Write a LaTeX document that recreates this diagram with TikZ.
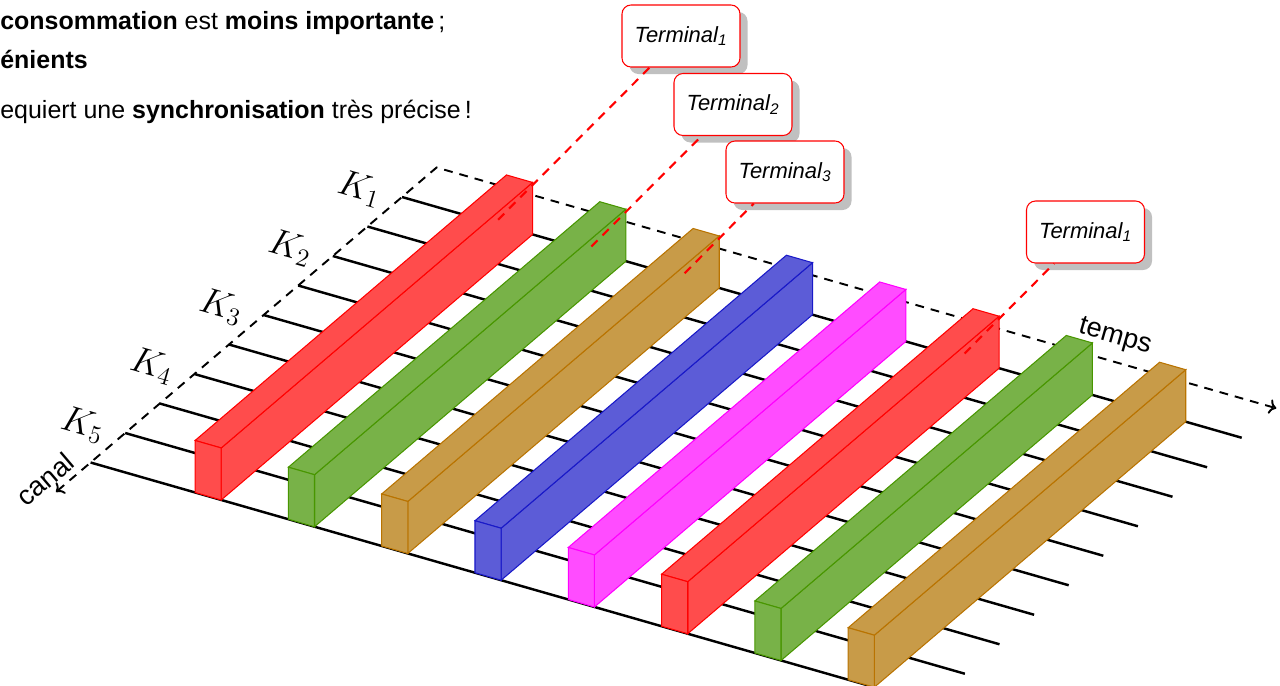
\documentclass[tikz,border=0pt]{standalone}
\usepackage[no-math]{fontspec}
\setmainfont{Liberation Sans}
\usetikzlibrary{arrows.meta, shadows}
\definecolor{barred}{RGB}{255,76,76}
\definecolor{edgered}{RGB}{255,0,0}
\definecolor{bargreen}{RGB}{120,178,72}
\definecolor{edgegreen}{RGB}{72,150,0}
\definecolor{barbrown}{RGB}{200,155,72}
\definecolor{edgebrown}{RGB}{185,115,0}
\definecolor{barblue}{RGB}{92,92,215}
\definecolor{edgeblue}{RGB}{25,25,200}
\definecolor{barmagenta}{RGB}{255,76,255}
\definecolor{edgemagenta}{RGB}{255,0,255}
\definecolor{shadowgray}{RGB}{192,192,192}
\tikzset{
  slotline/.style={
    draw=black, line width=1.4pt
  },
  axisline/.style={
    {To}-{To}, draw=black, dash pattern=on 5pt off 4pt, line width=1.1pt
  },
  hintline/.style={
    draw=red, dash pattern=on 5pt off 4pt, line width=1.2pt
  },
  termbox/.style={
    draw=red, fill=white, line width=0.6pt,
    rounded corners=0.18cm, minimum width=2.36cm,
    minimum height=1.24cm, align=center,
    drop shadow={shadow xshift=0.15cm, shadow yshift=-0.14cm,
      fill=shadowgray, opacity=1},
    font=\fontsize{12.5}{15}\selectfont\itshape
  },
  klabel/.style={
    font=\huge, rotate=-16, inner sep=1pt
  },
  axislabel/.style={
    font=\fontsize{15.5}{18}\selectfont
  },
  slidetext/.style={
    anchor=base west, inner sep=0pt,
    font=\fontsize{14.2}{17}\selectfont
  },
}

\begin{document}
\begin{tikzpicture}[x={(1.866cm,-0.535cm)}, y={(-0.692cm,-0.59cm)}, z={(0cm,1.04cm)}]
  \useasboundingbox (0cm,0cm) rectangle (25.6cm,-13.7cm);

  %% Slide text
  \node[slidetext] (line1) at (0cm,-0.586cm)
    {\textbf{consommation} est \textbf{moins importante}\,;};
  \node[slidetext] (line2) at (0cm,-1.36cm) {\textbf{énients}};
  \node[slidetext] (line3) at (0cm,-2.36cm)
    {equiert une \textbf{synchronisation} très précise\,!};

  \begin{scope}[shift={(8.732cm,-3.35cm)}]
    %% Channel lines
    \foreach \c in {1,...,10}
      \draw[slotline] (0,\c,0) -- (9,\c,0);

    %% Axes
    \draw[axisline] (0,11,0)
      -- node[axislabel, pos=0, sloped, above] (canal) {canal} (0,0,0)
      -- node[axislabel, pos=0.8, sloped, above=3pt] (temps) {temps} (9,0,0);

    %% Channel labels
    \foreach \i in {1,...,5}
      \node[klabel, xshift=-0.86cm, yshift=-0.08cm] (k\i) at (0,{2*\i-1},0)
        {$K_{\i}$};

    %% Time slots
    \foreach \col [count=\k from 0] in {red,green,brown,blue,magenta,red,green,brown} {
      \pgfmathsetmacro{\ta}{1.12+\k}
      \pgfmathsetmacro{\tb}{\ta+0.28}
      \begin{scope}[fill=bar\col, draw=edge\col, line width=0.6pt]
        \filldraw (\tb,1,0) -- (\tb,10,0) -- (\tb,10,1) -- (\tb,1,1) -- cycle;
        \filldraw (\ta,1,1) -- (\tb,1,1) -- (\tb,10,1) -- (\ta,10,1) -- cycle;
        \filldraw (\ta,10,0) -- (\tb,10,0) -- (\tb,10,1) -- (\ta,10,1) -- cycle;
      \end{scope}
    }

    %% Points for the terminals
    \coordinate (p1) at (1.4,2,0.85);
    \coordinate (p2) at (2.4,2,0.85);
    \coordinate (p3) at (3.4,2,0.85);
    \coordinate (p4) at (6.4,2,0.85);
  \end{scope}

  %% Terminals
  \node[termbox] (term1) at (13.62cm,-0.72cm) {Terminal\textsubscript{1}};
  \node[termbox] (term2) at (14.66cm,-2.09cm) {Terminal\textsubscript{2}};
  \node[termbox] (term3) at (15.70cm,-3.44cm) {Terminal\textsubscript{3}};
  \node[termbox] (term4) at (21.71cm,-4.64cm) {Terminal\textsubscript{1}};

  \draw[hintline] (p1) -- (term1);
  \draw[hintline] (p2) -- (term2);
  \draw[hintline] (p3) -- (term3);
  \draw[hintline] (p4) -- (term4);

\end{tikzpicture}
\end{document}
